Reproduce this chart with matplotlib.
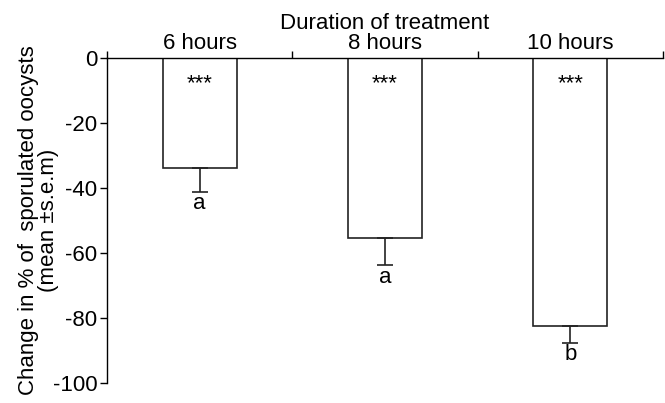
import matplotlib.pyplot as plt
import numpy as np

plt.rcParams['font.family'] = ['Liberation Sans', 'DejaVu Sans']
plt.rcParams['axes.unicode_minus'] = False

groups = ['6 hours', '8 hours', '10 hours']
means = [-33.8, -55.5, -82.5]
sem = [7.3, 8.3, 5.1]
letters = ['a', 'a', 'b']
stars = ['***', '***', '***']

fig = plt.figure(figsize=(6.65, 4.03), dpi=100)
ax = fig.add_axes([0.161, 0.0496, 0.836, 0.8064])

x = np.arange(len(groups))
ax.bar(x, means, width=0.40, color='white', edgecolor='#222222', linewidth=1.2, zorder=2)
ax.errorbar(x, means, yerr=[sem, np.zeros(len(sem))], fmt='none', ecolor='#222222',
            elinewidth=1.2, capsize=5.5, capthick=1.2, zorder=3)

for xi, m, s, lab, st in zip(x, means, sem, letters, stars):
    ax.annotate(lab, (xi, m - s), xytext=(0, -1), textcoords='offset points',
                ha='center', va='top', fontsize=16)
    ax.text(xi, -9.7, st, ha='center', va='baseline', fontsize=16)

ax.set_xlim(-0.5, 2.5)
ax.set_ylim(-100, 0)
ax.xaxis.tick_top()
ax.xaxis.set_label_position('top')
ax.set_xticks(x)
ax.set_xticklabels(groups, fontsize=16)
ax.tick_params(axis='x', which='major', length=0, pad=3)
ax.set_xticks([-0.5, 0.5, 1.5, 2.5], minor=True)
ax.tick_params(axis='x', which='minor', length=5, width=1, top=True, direction='out')
ax.set_yticks([0, -20, -40, -60, -80, -100])
ax.tick_params(axis='y', length=5, width=1, labelsize=16, pad=2)
ax.set_xlabel('Duration of treatment', fontsize=16)
ax.xaxis.set_label_coords(0.5, 1.088)

# y label drawn as two lines so the short second line sits next to the ticks
ax.text(-0.141, 0.5, 'Change in % of  sporulated oocysts', transform=ax.transAxes,
        rotation=90, ha='center', va='center', fontsize=16)
ax.text(-0.105, 0.5, '(mean \u00b1s.e.m)', transform=ax.transAxes,
        rotation=90, ha='center', va='center', fontsize=16)

for sp in ['right', 'bottom']:
    ax.spines[sp].set_visible(False)
ax.spines['top'].set_linewidth(1)
ax.spines['left'].set_linewidth(1)

fig.savefig('out.png', dpi=100)
